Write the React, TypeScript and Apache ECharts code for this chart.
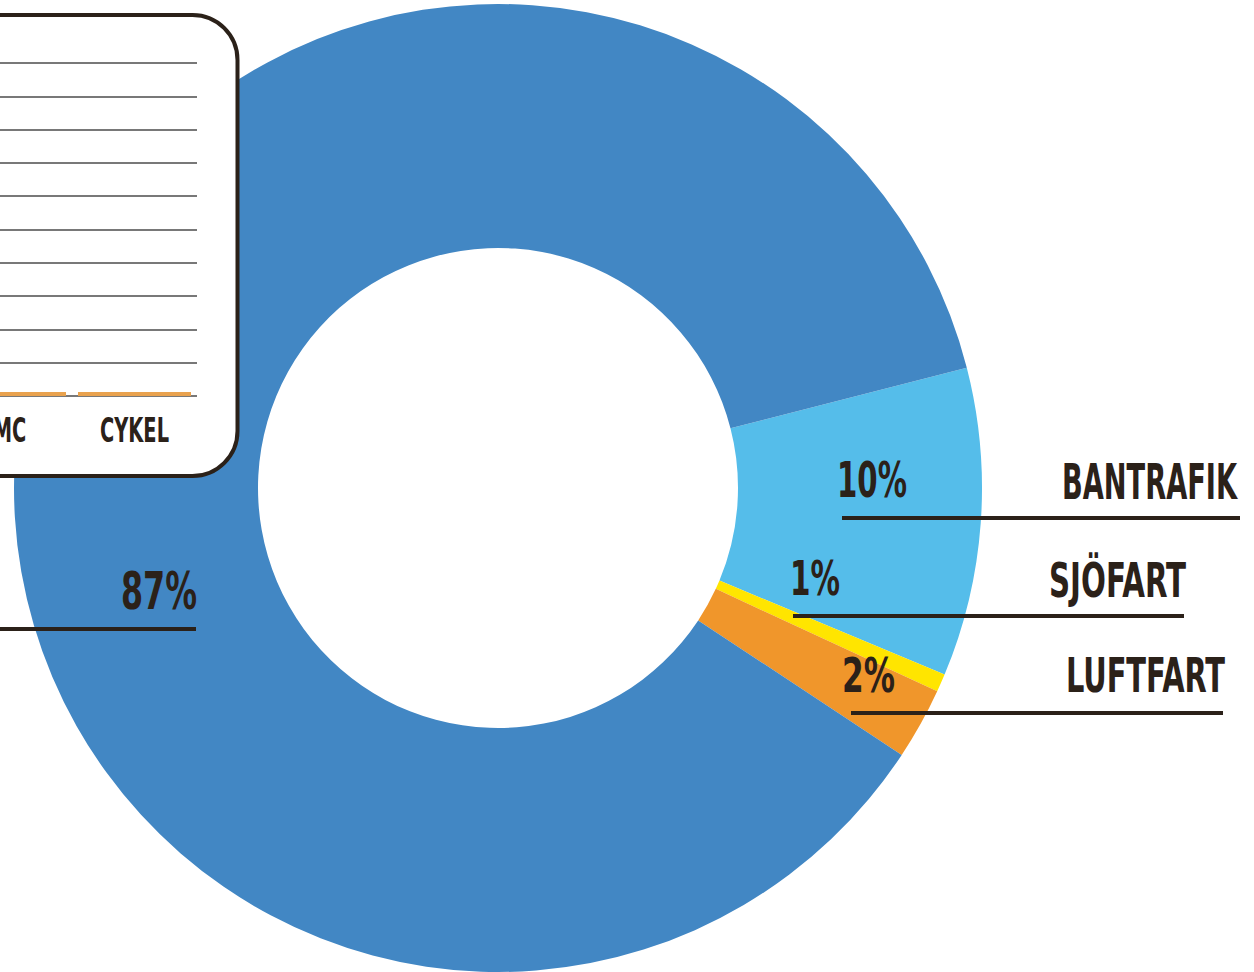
import React, { useEffect, useRef } from "react";
import * as echarts from "echarts";

// Donut data (share of total) and the printed labels
const sectors = ["BANTRAFIK", "SJÖFART", "LUFTFART", "VÄGTRAFIK"];
const shares = [10.3, 0.6, 2.4, 86.7];
const shareLabels = ["10%", "1%", "2%", "87%"];
const sectorColors = ["#55BDEA", "#FFE500", "#F0962B", "#4287C4"];

// Inset bar chart (only the last two categories are visible)
const insetCategories = ["MC", "CYKEL"];
const insetValues = [1.2, 1.2];
const insetMax = 100;
const insetInterval = 10;

const INK = "#2B2119";
const FONT = '"DejaVu Sans Condensed", "DejaVu Sans", sans-serif';

// label placement: [percent text x(left), y(center), width], [name right x, y, width], [line x1, x2, y]
const labelPlacement = [
  { pct: [837, 480, 70], name: [1237, 482, 175], line: [842, 1240, 518], size: 50 },
  { pct: [790, 579, 50], name: [1186, 581, 137], line: [793, 1184, 616], size: 48 },
  { pct: [842, 675, 53], name: [1225, 676, 159], line: [851, 1223, 713], size: 48 },
  { pct: [121, 591, 76], name: null, line: [-5, 196, 629], size: 52 },
];

let measureCtx: CanvasRenderingContext2D | null = null;
function fitScale(text: string, size: number, width: number) {
  if (!measureCtx) measureCtx = document.createElement("canvas").getContext("2d");
  if (!measureCtx) return 0.6;
  measureCtx.font = `bold ${size}px ${FONT}`;
  const w = measureCtx.measureText(text).width;
  return w > 0 ? width / w : 0.6;
}

function textEl(text: string, x: number, y: number, size: number, width: number, align: "left" | "right" | "center") {
  return {
    type: "text",
    x,
    y,
    z: 20,
    scaleX: fitScale(text, size, width),
    silent: true,
    style: {
      text,
      fill: INK,
      fontSize: size,
      fontWeight: "bold",
      fontFamily: FONT,
      align,
      textAlign: align,
      verticalAlign: "middle",
      textVerticalAlign: "middle",
    },
  };
}

export default function App() {
  const ref = useRef<HTMLDivElement>(null);

  useEffect(() => {
    if (!ref.current) return;
    const chart = echarts.init(ref.current, null, { renderer: "svg" });

    chart.setOption({
      animation: false,
      backgroundColor: "#ffffff",
      grid: {
        left: -53,
        top: 63,
        width: 250,
        height: 333,
        z: 5,
        containLabel: false,
        outerBoundsMode: "none",
      },
      xAxis: {
        type: "category",
        data: insetCategories,
        z: 5,
        axisLine: { show: false },
        axisTick: { show: false },
        axisLabel: { show: false },
        splitLine: { show: false },
      },
      yAxis: {
        type: "value",
        min: 0,
        max: insetMax,
        interval: insetInterval,
        z: 5,
        axisLine: { show: false },
        axisTick: { show: false },
        axisLabel: { show: false },
        splitLine: { show: true, lineStyle: { color: "#787878", width: 2 } },
      },
      series: [
        {
          type: "pie",
          z: 1,
          silent: true,
          center: [498, 488],
          radius: [240, 484],
          startAngle: 14.4,
          clockwise: true,
          label: { show: false },
          labelLine: { show: false },
          emphasis: { disabled: true },
          itemStyle: { borderWidth: 0 },
          data: sectors.map((name, i) => ({
            name,
            value: shares[i],
            itemStyle: { color: sectorColors[i] },
          })),
        },
        {
          type: "bar",
          z: 6,
          silent: true,
          barWidth: 113,
          itemStyle: { color: "#E9A24E" },
          data: insetValues,
        },
      ],
    });

    const elements: any[] = [
      {
        type: "rect",
        z: 3,
        silent: true,
        shape: { x: -50, y: 15, width: 287.5, height: 461, r: 45 },
        style: { fill: "#ffffff", stroke: INK, lineWidth: 4 },
      },
    ];

    labelPlacement.forEach((p, i) => {
      elements.push(textEl(shareLabels[i], p.pct[0], p.pct[1], p.size, p.pct[2], "left"));
      if (p.name) {
        elements.push(textEl(sectors[i], p.name[0], p.name[1], p.size, p.name[2], "right"));
      }
      elements.push({
        type: "line",
        z: 20,
        silent: true,
        shape: { x1: p.line[0], y1: p.line[2], x2: p.line[1], y2: p.line[2] },
        style: { stroke: INK, lineWidth: 4 },
      });
    });

    // inset category labels at the axis' own category positions
    const catScale = fitScale("CYKEL", 34, 69);
    insetCategories.forEach((c) => {
      const px = chart.convertToPixel({ xAxisIndex: 0 }, c) as number;
      const el: any = textEl(c, px, 431, 34, 69, "center");
      el.scaleX = catScale;
      elements.push(el);
    });

    chart.setOption({ graphic: { elements } });

    return () => chart.dispose();
  }, []);

  return (
    <div
      ref={ref}
      style={{ position: "fixed", left: 0, top: 0, width: 1254, height: 972 }}
    />
  );
}
